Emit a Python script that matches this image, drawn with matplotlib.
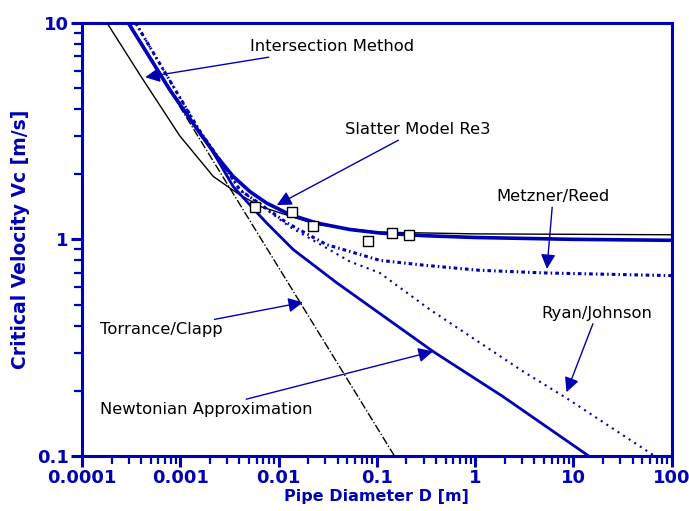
import numpy as np
import matplotlib
matplotlib.use("Agg")
import matplotlib.pyplot as plt
from matplotlib.ticker import LogLocator, FixedFormatter, FixedLocator, NullFormatter

BLUE = "#0000B4"

# Pipe diameter D [m] and critical velocity Vc [m/s] for each model
intersection_D = [2.95e-4, 7.85e-4, 1.585e-3, 2.34e-3, 3.46e-3, 5.12e-3, 7.56e-3, 0.0131, 0.0244, 0.0532, 0.107, 0.3, 1.0, 10.0, 100.0]
intersection_V = [10.0, 4.89, 3.09, 2.42, 1.95, 1.66, 1.47, 1.30, 1.19, 1.11, 1.07, 1.04, 1.02, 1.0, 0.99]

newtonian_D = [2.95e-4, 7.85e-4, 1.585e-3, 2.0e-3, 3.46e-3, 5.12e-3, 7.56e-3, 0.0141, 0.0391, 0.372, 1.92, 14.3]
newtonian_V = [10.0, 4.89, 3.09, 2.68, 1.75, 1.44, 1.19, 0.897, 0.63, 0.304, 0.188, 0.1]

slatter_D = [1.79e-4, 4.07e-4, 9.9e-4, 2.17e-3, 3.75e-3, 6.47e-3, 0.0131, 0.0244, 0.1, 1.0, 100.0]
slatter_V = [10.0, 5.56, 3.0, 1.95, 1.64, 1.42, 1.28, 1.17, 1.08, 1.06, 1.05]

torrance_D = [2.95e-4, 0.151]
torrance_V = [10.0, 0.1]

metzner_D = [3.5e-4, 1.585e-3, 2.34e-3, 4.05e-3, 0.0122, 0.0307, 0.107, 0.3, 1.1, 5.0, 100.0]
metzner_V = [10.0, 3.15, 2.45, 1.69, 1.19, 0.946, 0.80, 0.76, 0.72, 0.70, 0.68]

ryan_D = [3.5e-4, 1.585e-3, 2.34e-3, 4.05e-3, 0.0131, 0.0532, 0.107, 0.347, 3.06, 8.5, 67.0]
ryan_V = [10.0, 3.15, 2.45, 1.69, 1.14, 0.79, 0.70, 0.474, 0.246, 0.185, 0.1]

# Measured data points
data_D = [5.75e-3, 0.0137, 0.0224, 0.081, 0.143, 0.212]
data_V = [1.41, 1.34, 1.15, 0.986, 1.07, 1.05]

x_ticks = [1e-4, 1e-3, 1e-2, 1e-1, 1, 10, 100]
x_labels = ["0.0001", "0.001", "0.01", "0.1", "1", "10", "100"]
y_ticks = [0.1, 1, 10]
y_labels = ["0.1", "1", "10"]

fig = plt.figure(figsize=(6.89, 5.11), dpi=100)
ax = fig.add_axes([0.119, 0.1076, 0.856, 0.848])
ax.set_xscale("log")
ax.set_yscale("log")
ax.set_xlim(1e-4, 100)
ax.set_ylim(0.1, 10)

ax.plot(slatter_D, slatter_V, color="black", lw=1.0, zorder=3)
ax.plot(torrance_D, torrance_V, color="black", lw=1.0, ls=(0, (6, 1.5, 1, 1.5)), zorder=3)
ax.plot(metzner_D, metzner_V, color=BLUE, lw=2.2, ls=(0, (1.2, 1.0, 0.5, 1.0)), zorder=3)
ax.plot(ryan_D, ryan_V, color=BLUE, lw=1.5, ls=(0, (1, 2.2)), zorder=3)
ax.plot(newtonian_D, newtonian_V, color=BLUE, lw=2.0, zorder=4)
ax.plot(intersection_D, intersection_V, color=BLUE, lw=2.6, zorder=4)
ax.plot(data_D, data_V, ls="none", marker="s", ms=7, mfc="white", mec="black", mew=1.0, zorder=5)

arrow = dict(arrowstyle="-|>", color=BLUE, lw=1.0, mutation_scale=22, shrinkA=0, shrinkB=0)
tfont = dict(fontsize=11.8, color="black", va="center")
ax.annotate("Intersection Method", xy=(4.4e-4, 5.6), xytext=(5.1e-3, 7.73), arrowprops=arrow, ha="left", **tfont)
ax.annotate("Slatter Model Re3", xy=(9.6e-3, 1.44), xytext=(0.0473, 3.2), arrowprops=arrow, ha="left", **tfont)
ax.annotate("Metzner/Reed", xy=(5.37, 0.73), xytext=(6.2, 1.57), arrowprops=arrow, ha="center", **tfont)
ax.annotate("Ryan/Johnson", xy=(8.5, 0.197), xytext=(17.3, 0.455), arrowprops=arrow, ha="center", **tfont)
ax.annotate("Torrance/Clapp", xy=(0.0177, 0.512), xytext=(1.52e-4, 0.383), arrowprops=arrow, ha="left", **tfont)
ax.annotate("Newtonian Approximation", xy=(0.372, 0.304), xytext=(1.52e-4, 0.164), arrowprops=arrow, ha="left", **tfont)

ax.xaxis.set_major_locator(FixedLocator(x_ticks))
ax.xaxis.set_major_formatter(FixedFormatter(x_labels))
ax.xaxis.set_minor_locator(LogLocator(base=10, subs=np.arange(2, 10)))
ax.xaxis.set_minor_formatter(NullFormatter())
ax.yaxis.set_major_locator(FixedLocator(y_ticks))
ax.yaxis.set_major_formatter(FixedFormatter(y_labels))
ax.yaxis.set_minor_locator(LogLocator(base=10, subs=np.arange(2, 10)))
ax.yaxis.set_minor_formatter(NullFormatter())

for s in ax.spines.values():
    s.set_color(BLUE)
    s.set_linewidth(2.2)
ax.tick_params(which="both", direction="out", color=BLUE, top=False, right=False)
ax.tick_params(which="major", length=8, width=2.2, labelsize=13, labelcolor=BLUE, pad=1.5)
ax.tick_params(which="minor", length=6, width=1.6)
for lab in ax.get_xticklabels() + ax.get_yticklabels():
    lab.set_fontweight("bold")

ax.set_xlabel("Pipe Diameter D [m]", fontsize=11.5, fontweight="bold", color=BLUE, labelpad=1)
ax.set_ylabel("Critical Velocity Vc [m/s]", fontsize=13.5, fontweight="bold", color=BLUE, labelpad=5)

fig.savefig("out.png", dpi=100)
